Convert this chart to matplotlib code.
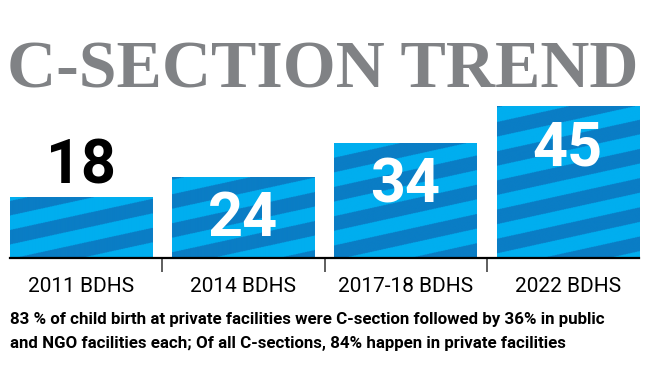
import numpy as np
import matplotlib
matplotlib.use('Agg')
import matplotlib.pyplot as plt
from matplotlib.colors import ListedColormap

# data
years = ['2011 BDHS', '2014 BDHS', '2017-18 BDHS', '2022 BDHS']
rates = [18, 24, 34, 45]
title = 'C-SECTION TREND'
caption = ['83 % of child birth at private facilities were C-section followed by 36% in public',
           'and NGO facilities each; Of all C-sections, 84% happen in private facilities']

narrow = ['Liberation Sans Narrow', 'Roboto', 'DejaVu Sans']
light = '#00aeef'
dark = '#0a7dc5'

W, H = 649, 366
fig = plt.figure(figsize=(W / 100, H / 100), dpi=100)
ax_h = 158 / H
ax = fig.add_axes([0, 108 / H, 1, ax_h])
ymax = 47
bw = 0.877

px_x = W / 4.0            # pixels per x unit
px_y = H * ax_h / ymax    # pixels per y unit

bars = ax.bar(range(len(rates)), rates, width=bw, color=dark, zorder=2)

# diagonal stripes, clipped to each bar
slope = 0.22
period = 14.5
for b in bars:
    x0 = b.get_x()
    x1 = x0 + b.get_width()
    h = b.get_height()
    nx = int(round((x1 - x0) * px_x)) * 2
    ny = int(round(h * px_y)) * 2
    yy, xx = np.mgrid[0:ny, 0:nx] / 2.0
    xx = xx + x0 * px_x
    pat = (np.floor((yy - slope * xx) / period) % 2).astype(int)
    ax.imshow(pat, cmap=ListedColormap([dark, light]), extent=[x0, x1, 0, h],
              origin='lower', aspect='auto', interpolation='antialiased',
              clip_path=b, zorder=3)

# value labels
for i, v in enumerate(rates):
    if v < 20:
        ax.text(i, v + 14 / px_y, str(v), ha='center', va='baseline', color='black',
                fontsize=44, fontweight='bold', family=narrow, zorder=5)
    else:
        ax.text(i, v - 59 / px_y, str(v), ha='center', va='baseline', color='white',
                fontsize=44, fontweight='bold', family=narrow, zorder=5)

# category labels
for i, lab in enumerate(years):
    ax.text(i, -34 / px_y, lab, ha='center', va='baseline', color='black',
            fontsize=15, family=narrow)

ax.set_xlim(-0.5, 3.5)
ax.set_ylim(0, ymax)
for s in ['top', 'right', 'left']:
    ax.spines[s].set_visible(False)
ax.spines['bottom'].set_bounds(-bw / 2, 3 + bw / 2)
ax.spines['bottom'].set_linewidth(1.6)
ax.spines['bottom'].set_zorder(6)
ax.set_yticks([])
ax.set_xticks([])
ax.set_xticks([0.5, 1.5, 2.5], minor=True)
ax.tick_params(axis='x', which='minor', length=10, width=1.1, color='#333333',
               direction='out')
ax.patch.set_visible(False)

# title
fig.text(0.4977, (H - 88) / H, title, ha='center', va='baseline', color='#808285',
         fontsize=49, fontweight='bold', family=['Liberation Serif', 'DejaVu Serif'])

# caption
fig.text(10 / W, (H - 324) / H, caption[0], ha='left', va='baseline', color='black',
         fontsize=12.2, fontweight='bold', family=narrow)
fig.text(10 / W, (H - 348) / H, caption[1], ha='left', va='baseline', color='black',
         fontsize=12.2, fontweight='bold', family=narrow)

fig.savefig('out.png', dpi=100)
